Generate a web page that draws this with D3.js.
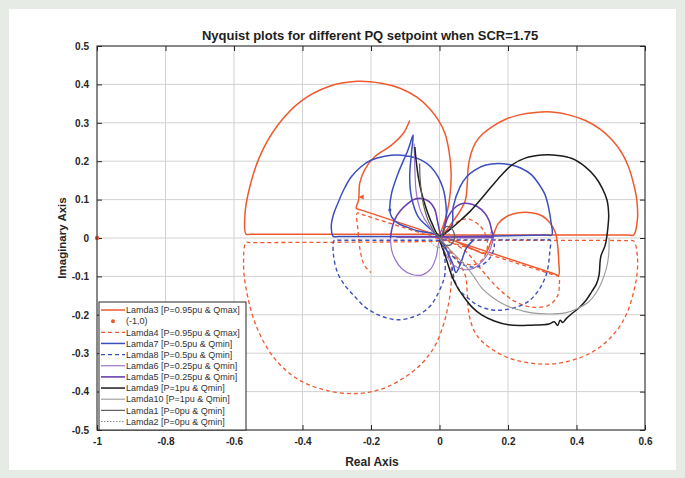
<!DOCTYPE html>
<html>
<head>
<meta charset="utf-8">
<script src="https://cdn.jsdelivr.net/npm/d3@7"></script>
<style>
  html, body { margin: 0; padding: 0; background: #e6ebe6; }
  svg { display: block; }
  text { font-family: "Liberation Sans", Arial, sans-serif; }
</style>
</head>
<body>
<svg id="chart" width="685" height="478"></svg>
<script>
// Axis ticks
const xTicks = [-1, -0.8, -0.6, -0.4, -0.2, 0, 0.2, 0.4, 0.6];
const yTicks = [-0.5, -0.4, -0.3, -0.2, -0.1, 0, 0.1, 0.2, 0.3, 0.4, 0.5];

// Nyquist loci, each as [real, imaginary] pairs
const lamda3 = [
  [0.0, 0.01], [-0.02, 0.01], [-0.55, 0.01], [-0.565, 0.01],
  [-0.568, 0.06], [-0.559, 0.114], [-0.526, 0.21], [-0.473, 0.293], [-0.405, 0.356],
  [-0.325, 0.394], [-0.24, 0.408], [-0.17, 0.403], [-0.115, 0.39], [-0.065, 0.366],
  [-0.028, 0.336], [-0.002, 0.305], [0.016, 0.272], [0.028, 0.225], [0.034, 0.17], [0.031, 0.115],
  [0.022, 0.066], [0.01, 0.03], [0.0, 0.005],
  [0.02, 0.02], [0.038, 0.042], [0.06, 0.07], [0.076, 0.1], [0.081, 0.142], [0.084, 0.185],
  [0.092, 0.22], [0.105, 0.248], [0.125, 0.27], [0.152, 0.289], [0.19, 0.308], [0.23, 0.32],
  [0.28, 0.327], [0.328, 0.328], [0.38, 0.32], [0.426, 0.306], [0.47, 0.283], [0.504, 0.255],
  [0.532, 0.222], [0.552, 0.185], [0.567, 0.14], [0.576, 0.099], [0.578, 0.05], [0.567, 0.008],
  [0.55, 0.008], [0.02, 0.008], [0.005, 0.008],
  [0.05, -0.01], [0.1, -0.03], [0.133, -0.04], [0.15, -0.01], [0.172, 0.038], [0.2, 0.058],
  [0.23, 0.066], [0.27, 0.066], [0.299, 0.058], [0.322, 0.04], [0.338, 0.015], [0.345, -0.02],
  [0.348, -0.06], [0.348, -0.097],
  [0.335, -0.0932], [-0.23, 0.0732],
  [-0.243, 0.077], [-0.236, 0.1], [-0.233, 0.142], [-0.219, 0.177], [-0.19, 0.211],
  [-0.14, 0.242], [-0.106, 0.272], [-0.087, 0.306]
];
const lamda4 = [
  [0.0, -0.008], [-0.02, -0.009], [-0.55, -0.012], [-0.565, -0.012],
  [-0.572, -0.07], [-0.565, -0.13], [-0.537, -0.225], [-0.485, -0.31], [-0.415, -0.367],
  [-0.33, -0.397], [-0.24, -0.405], [-0.165, -0.392], [-0.1, -0.362], [-0.05, -0.325],
  [-0.014, -0.282], [0.01, -0.23], [0.025, -0.178], [0.034, -0.12], [0.033, -0.07],
  [0.02, -0.03], [0.01, -0.01],
  [0.035, -0.04], [0.06, -0.07], [0.076, -0.1], [0.081, -0.142], [0.084, -0.185], [0.092, -0.22],
  [0.105, -0.248], [0.125, -0.27], [0.152, -0.289], [0.19, -0.308], [0.23, -0.32],
  [0.28, -0.327], [0.328, -0.328], [0.38, -0.32], [0.426, -0.306], [0.47, -0.283],
  [0.504, -0.255], [0.532, -0.222], [0.552, -0.185], [0.567, -0.14], [0.576, -0.099],
  [0.578, -0.05], [0.567, -0.008],
  [0.55, -0.007], [0.02, -0.006], [0.005, -0.006],
  [0.04, 0.035], [0.08, 0.05], [0.12, 0.03], [0.14, -0.01], [0.13, -0.05], [0.1, -0.07],
  [0.06, -0.06], [0.03, -0.03], [0.0, 0.0],
  [0.07, -0.03], [0.12, -0.08], [0.17, -0.13], [0.22, -0.165], [0.27, -0.18], [0.32, -0.175],
  [0.345, -0.15], [0.35, -0.12], [0.348, -0.1],
  [0.335, -0.0964], [-0.227, 0.0614],
  [-0.24, 0.065], [-0.238, 0.02], [-0.232, -0.03], [-0.22, -0.07], [-0.2, -0.09]
];
const lamda7 = [
  [0.0, 0.004], [-0.02, 0.004], [-0.295, 0.004], [-0.31, 0.004],
  [-0.316, 0.03], [-0.31, 0.06], [-0.297, 0.09], [-0.28, 0.125], [-0.258, 0.159], [-0.23, 0.185],
  [-0.199, 0.203], [-0.16, 0.213], [-0.121, 0.216], [-0.085, 0.212], [-0.053, 0.203],
  [-0.025, 0.185], [-0.004, 0.159], [0.01, 0.13], [0.016, 0.107], [0.02, 0.064], [0.015, 0.03],
  [0.003, 0.005],
  [-0.02, 0.012], [-0.062, 0.018], [-0.1, 0.03], [-0.121, 0.038], [-0.14, 0.055], [-0.145, 0.073],
  [-0.14, 0.116], [-0.121, 0.168], [-0.092, 0.229], [-0.077, 0.268],
  [-0.082, 0.22], [-0.087, 0.159], [-0.082, 0.107], [-0.062, 0.055], [-0.023, 0.021], [0.0, 0.005],
  [0.035, 0.03], [0.04, 0.081], [0.06, 0.133], [0.08, 0.16], [0.103, 0.177], [0.135, 0.19],
  [0.172, 0.194], [0.21, 0.19], [0.24, 0.181], [0.268, 0.165], [0.289, 0.142], [0.308, 0.113],
  [0.318, 0.081], [0.325, 0.045], [0.328, 0.008],
  [0.31, 0.0077], [0.02, 0.0033], [0.005, 0.003],
  [0.02, -0.03], [0.04, -0.07], [0.048, -0.09], [0.06, -0.07], [0.079, -0.026], [0.1, -0.005]
];
const lamda8 = [
  [0.0, -0.006], [-0.02, -0.006], [-0.29, -0.006], [-0.307, -0.006],
  [-0.31, -0.04], [-0.297, -0.092], [-0.275, -0.125], [-0.248, -0.152], [-0.22, -0.178],
  [-0.189, -0.196], [-0.155, -0.208], [-0.121, -0.213], [-0.085, -0.208], [-0.053, -0.196],
  [-0.025, -0.175], [-0.004, -0.144], [0.01, -0.115], [0.016, -0.092], [0.015, -0.05],
  [0.005, -0.01],
  [0.03, -0.05], [0.045, -0.113], [0.06, -0.138], [0.084, -0.157], [0.105, -0.172],
  [0.133, -0.183], [0.16, -0.188], [0.191, -0.187], [0.225, -0.18], [0.26, -0.165],
  [0.282, -0.145], [0.299, -0.122], [0.312, -0.095], [0.318, -0.07], [0.322, -0.035],
  [0.323, -0.005], [0.305, -0.005], [0.02, -0.005], [0.0, -0.005],
  [0.03, -0.04], [0.07, -0.07], [0.11, -0.075], [0.145, -0.055], [0.16, -0.02], [0.15, 0.015]
];
const lamda6 = [
  [-0.143, 0.0], [-0.14, -0.03], [-0.13, -0.055], [-0.11, -0.08], [-0.08, -0.095], [-0.05, -0.096],
  [-0.025, -0.08], [-0.01, -0.05], [0.0, -0.01],
  [0.02, -0.045], [0.04, -0.07], [0.07, -0.082], [0.099, -0.079], [0.125, -0.06], [0.145, -0.035],
  [0.155, -0.01], [0.157, 0.0], [0.14, 0.0], [0.015, 0.0], [0.0, 0.0],
  [-0.03, 0.03], [-0.055, 0.07], [-0.068, 0.12], [-0.072, 0.18], [-0.074, 0.246]
];
const lamda5 = [
  [-0.126, 0.003], [-0.11, 0.003], [0.14, 0.003], [0.157, 0.003],
  [0.152, 0.021], [0.145, 0.045], [0.133, 0.064], [0.11, 0.082], [0.084, 0.09], [0.06, 0.088],
  [0.04, 0.075], [0.025, 0.055], [0.015, 0.03], [0.005, 0.005],
  [-0.005, 0.04], [-0.014, 0.075], [-0.03, 0.095], [-0.053, 0.103], [-0.075, 0.1], [-0.092, 0.09],
  [-0.115, 0.07], [-0.131, 0.047], [-0.14, 0.02], [-0.143, 0.0]
];
const lamda9 = [
  [-0.072, 0.237], [-0.068, 0.2], [-0.062, 0.16], [-0.053, 0.12], [-0.04, 0.08], [-0.023, 0.04],
  [0.0, 0.005],
  [0.03, 0.022], [0.06, 0.045], [0.09, 0.07], [0.12, 0.1], [0.15, 0.132], [0.18, 0.163],
  [0.211, 0.19], [0.25, 0.208], [0.299, 0.216], [0.345, 0.215], [0.387, 0.207], [0.425, 0.186],
  [0.455, 0.159], [0.475, 0.13], [0.489, 0.099], [0.494, 0.06], [0.492, 0.03], [0.484, -0.018],
  [0.472, -0.045], [0.469, -0.06], [0.466, -0.096], [0.458, -0.12], [0.445, -0.139],
  [0.428, -0.162], [0.406, -0.183], [0.385, -0.198], [0.37, -0.21], [0.36, -0.22],
  [0.352, -0.214], [0.345, -0.228], [0.335, -0.218], [0.32, -0.224], [0.3, -0.226],
  [0.269, -0.227], [0.235, -0.228], [0.201, -0.226], [0.16, -0.216], [0.123, -0.2],
  [0.095, -0.18], [0.074, -0.157], [0.05, -0.125], [0.035, -0.096], [0.016, -0.044], [0.0, -0.005]
];
const lamda10 = [
  [0.0, 0.0], [0.03, -0.03], [0.074, -0.07], [0.1, -0.1], [0.123, -0.13], [0.155, -0.155],
  [0.19, -0.174], [0.23, -0.187], [0.269, -0.195], [0.32, -0.198], [0.367, -0.195],
  [0.405, -0.183], [0.436, -0.166], [0.458, -0.142], [0.474, -0.114], [0.487, -0.08],
  [0.494, -0.044], [0.495, 0.0]
];
const lamda1 = [
  [-0.058, 0.194], [-0.057, 0.16], [-0.053, 0.12], [-0.045, 0.08], [-0.03, 0.04], [0.0, 0.0],
  [0.02, 0.03], [0.035, 0.025], [0.044, 0.008], [0.04, -0.01], [0.025, -0.02], [0.005, -0.012],
  [-0.002, 0.008], [0.0, 0.0]
];
const lamda2 = [
  [0.0, 0.0], [-0.02, 0.02], [-0.03, 0.0], [-0.015, -0.02], [0.01, -0.025], [0.03, -0.01],
  [0.025, 0.015], [0.0, 0.0]
];
const criticalPoint = [[-1, 0]];

const series = [
  { label: "Lamda3 [P=0.95pu & Qmax]", data: lamda3, color: "#ee5a2e", width: 1.5, dash: null },
  { label: "(-1,0)", data: criticalPoint, color: "#ee5a2e", marker: true },
  { label: "Lamda4 [P=0.95pu & Qmax]", data: lamda4, color: "#ee5a2e", width: 1.3, dash: "4,3" },
  { label: "Lamda7 [P=0.5pu & Qmin]", data: lamda7, color: "#3c4fbf", width: 1.5, dash: null },
  { label: "Lamda8 [P=0.5pu & Qmin]", data: lamda8, color: "#3c4fbf", width: 1.4, dash: "4,3" },
  { label: "Lamda6 [P=0.25pu & Qmin]", data: lamda6, color: "#9b73cc", width: 1.2, dash: null },
  { label: "Lamda5 [P=0.25pu & Qmin]", data: lamda5, color: "#6a40b0", width: 1.6, dash: null },
  { label: "Lamda9 [P=1pu & Qmin]", data: lamda9, color: "#1c1c1c", width: 1.5, dash: null },
  { label: "Lamda10 [P=1pu & Qmin]", data: lamda10, color: "#9a9a9a", width: 1.1, dash: null },
  { label: "Lamda1 [P=0pu & Qmin]", data: lamda1, color: "#5e5e5e", width: 1.2, dash: null },
  { label: "Lamda2 [P=0pu & Qmin]", data: lamda2, color: "#8a8a8a", width: 1.0, dash: "1.5,1.5" }
];

const svg = d3.select("#chart");

// White figure panel
svg.append("rect").attr("x", 9).attr("y", 9).attr("width", 667).attr("height", 461).attr("fill", "#ffffff");

const x = d3.scaleLinear().domain([-1, 0.6]).range([97, 645]);
const y = d3.scaleLinear().domain([-0.5, 0.5]).range([430, 46]);

const plot = svg.append("g");

// Grid
plot.append("g").selectAll("line").data(xTicks).join("line")
  .attr("x1", d => x(d)).attr("x2", d => x(d)).attr("y1", y(0.5)).attr("y2", y(-0.5))
  .attr("stroke", "#d2d2d2").attr("stroke-width", 1);
plot.append("g").selectAll("line").data(yTicks).join("line")
  .attr("y1", d => y(d)).attr("y2", d => y(d)).attr("x1", x(-1)).attr("x2", x(0.6))
  .attr("stroke", "#d2d2d2").attr("stroke-width", 1);

// Axes with inward ticks on all four sides
const fmt = d => (d === 0 ? "0" : String(+d.toFixed(1)));
const axB = plot.append("g").attr("transform", `translate(0,${y(-0.5)})`)
  .call(d3.axisBottom(x).tickValues(xTicks).tickSizeInner(-5).tickSizeOuter(0).tickPadding(8).tickFormat(fmt));
const axT = plot.append("g").attr("transform", `translate(0,${y(0.5)})`)
  .call(d3.axisTop(x).tickValues(xTicks).tickSizeInner(-5).tickSizeOuter(0).tickFormat(""));
const axL = plot.append("g").attr("transform", `translate(${x(-1)},0)`)
  .call(d3.axisLeft(y).tickValues(yTicks).tickSizeInner(-5).tickSizeOuter(0).tickPadding(8).tickFormat(fmt));
const axR = plot.append("g").attr("transform", `translate(${x(0.6)},0)`)
  .call(d3.axisRight(y).tickValues(yTicks).tickSizeInner(-5).tickSizeOuter(0).tickFormat(""));
[axB, axT, axL, axR].forEach(a => {
  a.select(".domain").remove();
  a.selectAll(".tick line").attr("stroke", "#262626");
  a.selectAll("text").attr("font-size", 10).attr("font-weight", "bold").attr("fill", "#262626")
    .attr("font-family", "Liberation Sans, Arial, sans-serif");
});

// Curves
const line = d3.line().x(d => x(d[0])).y(d => y(d[1])).curve(d3.curveCatmullRom.alpha(0.5));
const curves = plot.append("g");
series.forEach(s => {
  if (s.marker) return;
  curves.append("path").attr("d", line(s.data)).attr("fill", "none")
    .attr("stroke", s.color).attr("stroke-width", s.width)
    .attr("stroke-dasharray", s.dash).attr("stroke-linejoin", "round");
});

// Direction arrows
curves.append("path")
  .attr("d", `M${x(-0.236)},${y(0.107)} l5,-2.5 l0,5 z`)
  .attr("fill", "#ee5a2e");
curves.append("circle").attr("cx", x(-0.145)).attr("cy", y(0.073)).attr("r", 1.6).attr("fill", "#3c4fbf");

// Critical point (-1, 0)
curves.selectAll("circle.crit").data(criticalPoint).join("circle").attr("class", "crit")
  .attr("cx", d => x(d[0])).attr("cy", d => y(d[1])).attr("r", 2.2).attr("fill", "#ee5a2e");

// Box
plot.append("rect").attr("x", x(-1)).attr("y", y(0.5))
  .attr("width", x(0.6) - x(-1)).attr("height", y(-0.5) - y(0.5))
  .attr("fill", "none").attr("stroke", "#262626").attr("stroke-width", 1);

// Titles
svg.append("text").attr("x", 370).attr("y", 40).attr("text-anchor", "middle")
  .attr("font-size", 13).attr("font-weight", "bold").attr("fill", "#1e1e1e")
  .text("Nyquist plots for different PQ setpoint when SCR=1.75");
svg.append("text").attr("x", 372).attr("y", 466).attr("text-anchor", "middle")
  .attr("font-size", 12).attr("font-weight", "bold").attr("fill", "#262626").text("Real Axis");
svg.append("text").attr("transform", "translate(66,238) rotate(-90)").attr("text-anchor", "middle")
  .attr("font-size", 11.5).attr("font-weight", "bold").attr("fill", "#262626").text("Imaginary Axis");

// Legend
const lg = svg.append("g");
const lgX = 99, lgY = 302, lgW = 147, rowH = 11.15;
lg.append("rect").attr("x", lgX).attr("y", lgY).attr("width", lgW).attr("height", y(-0.5) - lgY)
  .attr("fill", "#ffffff").attr("stroke", "#262626").attr("stroke-width", 1);
series.forEach((s, i) => {
  const cy = lgY + 8 + i * rowH;
  if (s.marker) {
    lg.append("circle").attr("cx", 113).attr("cy", cy).attr("r", 2).attr("fill", s.color);
  } else {
    lg.append("line").attr("x1", 101).attr("x2", 125).attr("y1", cy).attr("y2", cy)
      .attr("stroke", s.color).attr("stroke-width", s.width).attr("stroke-dasharray", s.dash);
  }
  lg.append("text").attr("x", 126).attr("y", cy + 3.2).attr("font-size", 9)
    .attr("fill", "#333333").text(s.label);
});
</script>
</body>
</html>
